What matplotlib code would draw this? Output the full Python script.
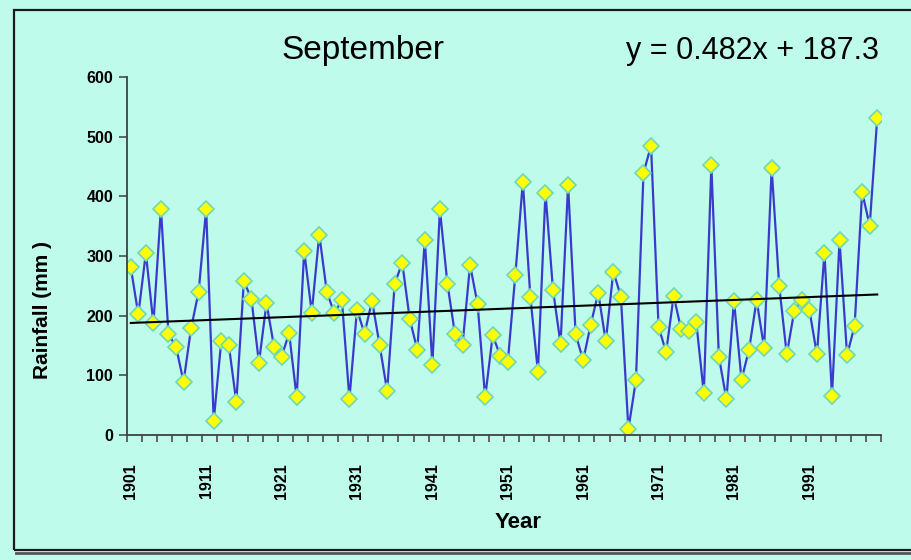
import matplotlib.pyplot as plt
from matplotlib.patches import Rectangle
from matplotlib.lines import Line2D


years = list(range(1901, 2001))
rainfall = [
    281, 202, 305, 187, 379, 169, 148, 89, 179, 240,
    379, 24, 157, 151, 55, 258, 228, 121, 221, 148,
    131, 171, 63, 309, 205, 336, 240, 204, 226, 61,
    210, 170, 225, 151, 74, 253, 289, 194, 143, 327,
    118, 378, 253, 169, 151, 285, 219, 63, 167, 133,
    122, 268, 424, 231, 106, 406, 243, 153, 419, 169,
    125, 185, 238, 157, 274, 232, 10, 92, 439, 485,
    181, 139, 233, 177, 175, 189, 70, 452, 131, 60,
    225, 93, 143, 226, 146, 447, 250, 135, 208, 226,
    210, 135, 305, 66, 326, 134, 183, 407, 351, 531,
]
label_years = list(range(1901, 2000, 10))
y_ticks = [0, 100, 200, 300, 400, 500, 600]

# linear trend as printed on the chart (x = 1, 2, ... n)
slope = 0.482
intercept = 187.3
trend = [slope * (i + 1) + intercept for i in range(len(years))]

BG = "#bffbea"

plt.rcParams.update({
    "font.family": ["Liberation Sans", "DejaVu Sans"],
})

W, H = 912, 560
fig = plt.figure(figsize=(W / 100, H / 100), dpi=100, facecolor=BG)

# outer chart frame with a little shadow at the bottom
fig.patches.append(Rectangle(
    (14 / W, 1 - 550 / H), 1.2, (550 - 10) / H, transform=fig.transFigure,
    facecolor="none", edgecolor="#1a1a1a", linewidth=1.6, zorder=0,
))
fig.lines.append(Line2D(
    [16 / W, 1.0], [1 - 553 / H, 1 - 553 / H], transform=fig.transFigure,
    color="#555555", linewidth=2.0,
))

ax = fig.add_axes([127 / W, 1 - 435 / H, (881 - 127) / W, (435 - 77) / H])
ax.set_facecolor(BG)

ax.plot(
    years, rainfall, color="#3a3acc", linewidth=1.6,
    marker="D", markersize=8.2, markerfacecolor="#ffff00",
    markeredgecolor="#6ed8b4", markeredgewidth=1.2, zorder=2,
)
ax.plot(years, trend, color="black", linewidth=1.5, zorder=3)

ax.set_xlim(years[0] - 0.5, years[-1] + 0.5)
ax.set_ylim(0, 600)

ax.spines["top"].set_visible(False)
ax.spines["right"].set_visible(False)
for side in ["left", "bottom"]:
    ax.spines[side].set_color("#404040")
    ax.spines[side].set_linewidth(1.3)

# tick marks every two categories, labels every ten years
ax.set_xticks([y - 0.5 for y in range(years[0], years[-1] + 2, 2)])
ax.set_xticklabels([])
ax.tick_params(axis="x", which="major", direction="out", length=5,
               width=1.1, color="#404040")
ax.set_xticks(label_years, minor=True)
ax.set_xticklabels([str(y) for y in label_years], minor=True,
                   rotation=90, fontsize=11.5, fontweight="bold")
ax.tick_params(axis="x", which="minor", length=0, pad=20)

ax.set_yticks(y_ticks)
ax.set_yticklabels([str(v) for v in y_ticks], fontsize=11.5, fontweight="bold")
ax.tick_params(axis="y", direction="out", length=6, width=1.1,
               color="#404040", pad=4)

fig.text(43 / W, 1 - 310 / H, "Rainfall (mm )", rotation=90,
         ha="center", va="center", fontsize=15, fontweight="bold")
fig.text(518 / W, 1 - 522 / H, "Year", ha="center", va="center",
         fontsize=16, fontweight="bold")
fig.text(363 / W, 1 - 59 / H, "September", ha="center", va="baseline",
         fontsize=24)
fig.text(879 / W, 1 - 59 / H, f"y = {slope}x + {intercept}", ha="right",
         va="baseline", fontsize=22)

fig.savefig("out.png", dpi=100, facecolor=BG)
